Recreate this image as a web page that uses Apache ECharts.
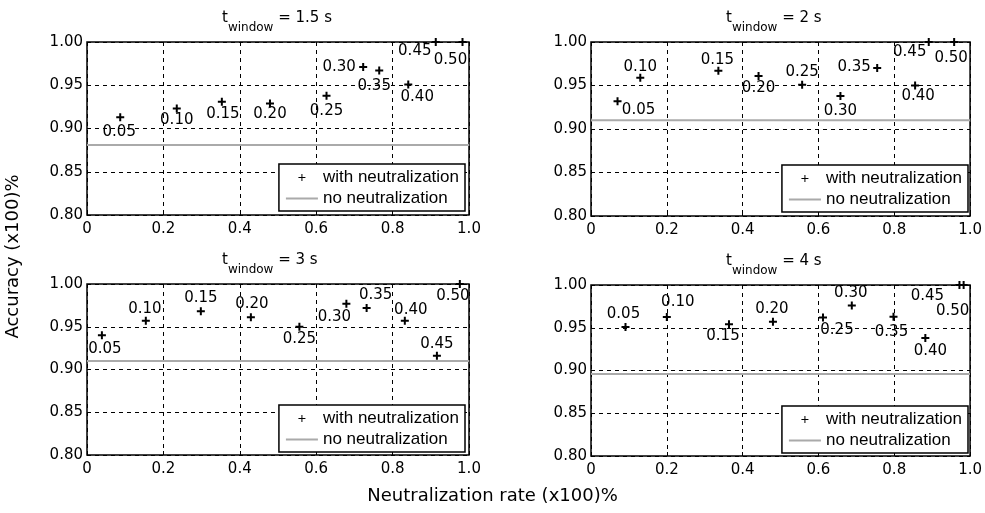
<!DOCTYPE html>
<html><head><meta charset="utf-8">
<script src="https://cdn.jsdelivr.net/npm/echarts@6/dist/echarts.min.js"></script>
<style>html,body{margin:0;padding:0;background:#fff}#c{width:985px;height:513px}</style>
</head><body><div id="c"></div>
<script>
// ---------------- data ----------------
const rateLabels = ['0.05','0.10','0.15','0.20','0.25','0.30','0.35','0.40','0.45','0.50'];
const windowValues = ['1.5', '2', '3', '4'];
const xTicks = [0, 0.2, 0.4, 0.6, 0.8, 1.0];
const yTicks = [0.80, 0.85, 0.90, 0.95, 1.00];

const rate15 = [0.087, 0.235, 0.353, 0.479, 0.627, 0.723, 0.765, 0.841, 0.913, 0.983];
const acc15  = [0.913, 0.923, 0.931, 0.929, 0.938, 0.971, 0.967, 0.951, 1.000, 1.000];
const base15 = 0.881;

const rate2 = [0.070, 0.130, 0.336, 0.442, 0.557, 0.658, 0.755, 0.855, 0.891, 0.958];
const acc2  = [0.932, 0.959, 0.967, 0.961, 0.951, 0.938, 0.970, 0.950, 1.000, 1.000];
const base2 = 0.910;

const rate3 = [0.039, 0.154, 0.298, 0.429, 0.556, 0.679, 0.732, 0.832, 0.916, 0.976];
const acc3  = [0.940, 0.957, 0.968, 0.961, 0.950, 0.977, 0.972, 0.957, 0.916, 1.000];
const base3 = 0.910;

const rate4 = [0.091, 0.200, 0.364, 0.480, 0.612, 0.688, 0.798, 0.882, 0.972, 0.983];
const acc4  = [0.951, 0.9625, 0.954, 0.957, 0.962, 0.976, 0.963, 0.938, 1.000, 1.000];
const base4 = 0.896;

// ---------------- styling (label placement, layout) ----------------
const labelOffsets = [
  [[-1,15],[0,12],[1,12],[0,11],[0,15],[-24,0],[-5,16],[9,13],[-21,9],[-12,18]],
  [[21,9],[0,-11],[-1,-11],[0,12],[0,-13],[0,15],[-23,-1],[3,11],[-19,10],[-3,16]],
  [[3,14],[-1,-12],[0,-13],[1,-13],[0,12],[-12,13],[9,-13],[6,-11],[0,-12],[-7,12]],
  [[-2,-13],[11,-15],[-6,12],[-1,-13],[14,13],[-1,-12],[-2,15],[5,13],[-32,11],[-11,26]]
];
const grids = [
  {left: 87, top: 42, width: 382, height: 173},
  {left: 591, top: 42, width: 382, height: 174},
  {left: 87, top: 284, width: 382, height: 171},
  {left: 591, top: 285, width: 382, height: 171}
];
const legendPos = [
  {right: 520, top: 164}, {right: 17, top: 165},
  {right: 520, top: 405}, {right: 17, top: 406}
];

const panels = [
  {rate: rate15, acc: acc15, base: base15},
  {rate: rate2, acc: acc2, base: base2},
  {rate: rate3, acc: acc3, base: base3},
  {rate: rate4, acc: acc4, base: base4}
];

const plusPath = 'path://M3,0H5V3H8V5H5V8H3V5H0V3H3Z';
// legend icons: padded with move-to points so they keep a small size inside a 32x16 box
const legendPlus = 'path://M0,0M32,16M15.5,4.5H16.5V7.5H19.5V8.5H16.5V11.5H15.5V8.5H12.5V7.5H15.5Z';
const legendLine = 'path://M0,0M32,16M0,7H32V9H0Z';
const tickFont = {fontFamily: 'DejaVu Sans', fontSize: 15, color: '#000'};

const option = {
  animation: false,
  backgroundColor: '#fff',
  grid: grids.map(g => Object.assign({show: true, borderColor: '#000', borderWidth: 1.5, backgroundColor: 'transparent'}, g)),
  xAxis: grids.map((g, i) => ({
    gridIndex: i, type: 'value', min: 0, max: 1, interval: 0.2,
    axisLine: {show: false},
    axisTick: {show: true, inside: true, length: 4, lineStyle: {color: '#000'}},
    splitLine: {show: true, lineStyle: {color: '#000', type: [4, 4], width: 1}},
    axisLabel: Object.assign({margin: 7, formatter: v => v === 0 ? '0' : v.toFixed(1)}, tickFont)
  })),
  yAxis: grids.map((g, i) => ({
    gridIndex: i, type: 'value', min: 0.8, max: 1.0, interval: 0.05,
    axisLine: {show: false},
    axisTick: {show: true, inside: true, length: 4, lineStyle: {color: '#000'}},
    splitLine: {show: true, lineStyle: {color: '#000', type: [4, 4], width: 1}},
    axisLabel: Object.assign({margin: 4, formatter: v => v.toFixed(2)}, tickFont)
  })),
  legend: legendPos.map((p, i) => Object.assign({
    orient: 'vertical',
    data: [{name: 'with neutralization', icon: legendPlus}, {name: 'no neutralization', icon: legendLine}],
    backgroundColor: '#fff', borderColor: '#000', borderWidth: 1.5, borderRadius: 0,
    padding: [5, 6, 4, 7], itemGap: 4, itemWidth: 32, itemHeight: 16,
    textStyle: {fontFamily: 'Liberation Sans', fontSize: 17, color: '#000', padding: [0, 0, 0, 0]},
    selectedMode: false
  }, p)),
  series: []
};

panels.forEach((p, i) => {
  option.series.push({
    name: 'with neutralization', type: 'scatter', xAxisIndex: i, yAxisIndex: i,
    symbol: plusPath, symbolSize: 8,
    itemStyle: {color: '#000', opacity: 1},
    data: p.rate.map((x, k) => ({
      value: [x, p.acc[k]],
      label: {offset: labelOffsets[i][k]}
    })),
    label: {
      show: true, position: 'inside', align: 'center', verticalAlign: 'middle',
      formatter: prm => rateLabels[prm.dataIndex],
      fontFamily: 'DejaVu Sans', fontSize: 15, color: '#000'
    },
    z: 3
  });
  option.series.push({
    name: 'no neutralization', type: 'line', xAxisIndex: i, yAxisIndex: i,
    showSymbol: false, symbol: 'none',
    lineStyle: {color: '#aaaaaa', width: 2},
    itemStyle: {color: '#aaaaaa'},
    data: [[0, p.base], [1, p.base]],
    z: 2
  });
});

option.graphic = [];
grids.forEach((g, i) => {
  option.graphic.push({
    type: 'text',
    left: g.left + g.width / 2 - 56, top: g.top - 31,
    style: {
      text: '{t|t}{s|window}{e| = ' + windowValues[i] + ' s}',
      rich: {
        t: {fontFamily: 'DejaVu Sans', fontSize: 15, padding: [0, 0, 9, 0], fill: '#000'},
        s: {fontFamily: 'DejaVu Sans', fontSize: 12, padding: [10, 0, 0, 0], fill: '#000'},
        e: {fontFamily: 'DejaVu Sans', fontSize: 15, padding: [0, 0, 9, 0], fill: '#000'}
      }
    }
  });
});
option.graphic.push({
  type: 'text', left: 'center', top: 487,
  style: {text: 'Neutralization rate (x100)%', fontFamily: 'DejaVu Sans', fontSize: 18, fill: '#000'}
});
option.graphic.push({
  type: 'text', left: 4, top: 'middle', rotation: Math.PI / 2,
  style: {text: 'Accuracy (x100)%', fontFamily: 'DejaVu Sans', fontSize: 18, fill: '#000'}
});

const chart = echarts.init(document.getElementById('c'), null, {renderer: 'canvas'});
chart.setOption(option);
</script>
</body></html>
